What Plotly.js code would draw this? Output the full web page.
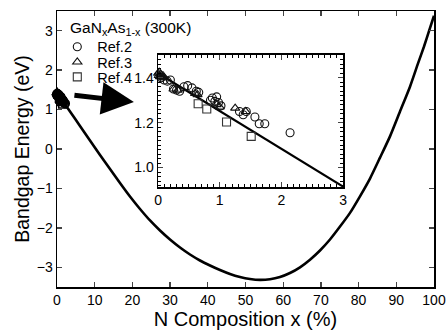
<!DOCTYPE html>
<html>
<head>
<meta charset="utf-8">
<script src="https://cdn.plot.ly/plotly-3.0.1.min.js"></script>
<style>html,body{margin:0;padding:0;background:#fff;}#chart{width:446px;height:331px;}</style>
</head>
<body>
<div id="chart"></div>
<script>
// Main bandgap curve (N composition %, eV)
var curveX = [0, 1.59, 3.45, 6.10, 8.75, 11.41, 14.06, 16.71, 19.36, 22.02, 24.67, 27.32, 29.97, 32.63, 35.28, 37.93, 40.58, 43.24, 45.89, 48.54, 51.19, 53.85, 56.50, 59.15, 61.80, 64.46, 67.11, 69.76, 72.41, 75.07, 77.72, 80.37, 83.02, 85.68, 88.33, 90.98, 93.63, 95.76, 97.35, 98.67, 100];
var curveY = [1.42, 1.205, 0.951, 0.583, 0.216, -0.152, -0.507, -0.862, -1.205, -1.522, -1.813, -2.067, -2.295, -2.498, -2.676, -2.828, -2.954, -3.069, -3.170, -3.246, -3.297, -3.320, -3.303, -3.245, -3.144, -3.000, -2.808, -2.574, -2.295, -1.967, -1.620, -1.200, -0.750, -0.220, 0.320, 0.950, 1.580, 2.170, 2.600, 2.990, 3.38];

// Inset calculated line
var insetLineX = [0, 3];
var insetLineY = [1.42, 0.915];

// Experimental data (N %, eV)
var ref2X = [0.05, 0.10, 0.15, 0.20, 0.25, 0.30, 0.35, 0.42, 0.48, 0.55, 0.62, 0.66, 0.85, 0.88, 0.92, 0.95, 0.98, 1.02, 1.32, 1.38, 1.43, 1.57, 1.64, 1.73, 2.14];
var ref2Y = [1.40, 1.39, 1.385, 1.39, 1.35, 1.345, 1.34, 1.36, 1.365, 1.355, 1.34, 1.335, 1.30, 1.31, 1.295, 1.315, 1.29, 1.275, 1.25, 1.235, 1.25, 1.225, 1.195, 1.195, 1.155];
var ref3X = [0.0, 0.01, 0.02, 0.03, 0.04, 0.06, 0.08, 0.10, 0.25, 0.32, 0.60, 0.64, 0.95, 1.00, 1.25, 1.42];
var ref3Y = [1.42, 1.41, 1.425, 1.405, 1.415, 1.40, 1.41, 1.40, 1.35, 1.345, 1.33, 1.325, 1.28, 1.27, 1.265, 1.25];
var ref4X = [0.65, 0.79, 1.11, 1.51];
var ref4Y = [1.284, 1.261, 1.203, 1.139];

var xTitle = 'N Composition x (%)';
var yTitle = 'Bandgap Energy (eV)';
var legendTitle = 'GaN<sub>x</sub>As<sub>1-x</sub> (300K)';
var refNames = ['Ref.2', 'Ref.3', 'Ref.4'];

var FONT = 'Liberation Sans, Arial, Helvetica, sans-serif';
function mk(sym, col, w) {
  return {symbol: sym, size: 8, color: col, line: {color: col, width: w}};
}

var traces = [
  {x: curveX, y: curveY, mode: 'lines', line: {color: '#000', width: 2.6, shape: 'spline', smoothing: 0.6},
   xaxis: 'x', yaxis: 'y', showlegend: false, hoverinfo: 'skip'},
  {x: ref2X, y: ref2Y, mode: 'markers', marker: mk('circle-open', '#000', 2), xaxis: 'x', yaxis: 'y', showlegend: false, cliponaxis: false},
  {x: ref3X, y: ref3Y, mode: 'markers', marker: mk('triangle-up-open', '#000', 2), xaxis: 'x', yaxis: 'y', showlegend: false, cliponaxis: false},
  {x: ref4X, y: ref4Y, mode: 'markers', marker: mk('square-open', '#000', 1.5), xaxis: 'x', yaxis: 'y', showlegend: false, cliponaxis: false},
  {x: insetLineX, y: insetLineY, mode: 'lines', line: {color: '#000', width: 2.2},
   xaxis: 'x2', yaxis: 'y2', showlegend: false},
  {x: ref2X, y: ref2Y, mode: 'markers', name: refNames[0], legend: 'legend', marker: mk('circle-open', '#111', 1.1), xaxis: 'x2', yaxis: 'y2', cliponaxis: false},
  {x: ref3X, y: ref3Y, mode: 'markers', name: refNames[1], legend: 'legend2', marker: mk('triangle-up-open', '#111', 1.1), xaxis: 'x2', yaxis: 'y2', cliponaxis: false},
  {x: ref4X, y: ref4Y, mode: 'markers', name: refNames[2], legend: 'legend3', marker: mk('square-open', '#333', 1.1), xaxis: 'x2', yaxis: 'y2', cliponaxis: false}
];

function leg(yPaper) {
  return {
    x: 0.022, y: yPaper, xanchor: 'left', yanchor: 'middle',
    bgcolor: 'rgba(0,0,0,0)', borderwidth: 0,
    font: {size: 14.5, family: FONT, color: '#000'},
    indentation: -8, itemwidth: 30
  };
}

var layout = {
  width: 446, height: 331,
  margin: {l: 57, r: 12, t: 11, b: 44},
  paper_bgcolor: '#fff', plot_bgcolor: '#fff',
  font: {family: FONT, color: '#000', size: 14},
  showlegend: true,
  legend: leg(0.870),
  legend2: leg(0.815),
  legend3: leg(0.761),
  xaxis: {
    domain: [0, 1], range: [0, 100], dtick: 10, tick0: 0,
    ticks: 'inside', ticklen: 5, tickwidth: 1.3, mirror: 'ticks',
    showline: true, linecolor: '#000', linewidth: 1.5, showgrid: false, zeroline: false,
    tickfont: {size: 14}, title: {text: xTitle, font: {size: 20}, standoff: 0}
  },
  yaxis: {
    domain: [0, 1], range: [-3.5, 3.5], dtick: 1, tick0: 0,
    ticks: 'inside', ticklen: 5, tickwidth: 1.3, mirror: 'ticks',
    showline: true, linecolor: '#000', linewidth: 1.5, showgrid: false, zeroline: false,
    tickfont: {size: 14}, title: {text: yTitle, font: {size: 19.5}, standoff: 2}
  },
  xaxis2: {
    domain: [0.268, 0.759], anchor: 'y2', range: [0, 3], dtick: 1, tick0: 0,
    ticks: 'inside', ticklen: 5, tickwidth: 1.2, mirror: 'ticks',
    minor: {dtick: 0.1, ticks: 'inside', ticklen: 3, tickwidth: 1, tickcolor: '#000'},
    showline: true, linecolor: '#000', linewidth: 1.5, showgrid: false, zeroline: false,
    tickfont: {size: 14}
  },
  yaxis2: {
    domain: [0.362, 0.841], anchor: 'x2', range: [0.913, 1.502], dtick: 0.2, tick0: 0,
    tickformat: '.1f',
    ticks: 'inside', ticklen: 5, tickwidth: 1.2, mirror: 'ticks',
    minor: {dtick: 0.02, ticks: 'inside', ticklen: 3, tickwidth: 1, tickcolor: '#000'},
    showline: true, linecolor: '#000', linewidth: 1.5, showgrid: false, zeroline: false,
    tickfont: {size: 14}
  },
  annotations: [
    {
      x: 0.028, y: 0.938, xref: 'paper', yref: 'paper', xanchor: 'left', yanchor: 'middle',
      text: legendTitle, showarrow: false, font: {size: 15.5, family: FONT, color: '#000'}
    },
    {
      x: 20.4, y: 1.19, xref: 'x', yref: 'y', text: '',
      showarrow: true, arrowhead: 2, arrowsize: 1.3, arrowwidth: 5, arrowcolor: '#000',
      ax: -61, ay: -7, standoff: 0
    }
  ]
};

Plotly.newPlot('chart', traces, layout, {displayModeBar: false, staticPlot: true});
</script>
</body>
</html>
